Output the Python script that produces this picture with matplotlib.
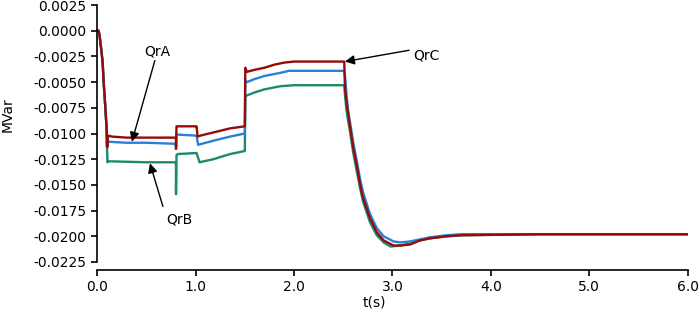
import matplotlib
matplotlib.use("Agg")
import matplotlib.pyplot as plt
from matplotlib.ticker import FormatStrFormatter, MultipleLocator

# QrC (red)
t_qrc = [0, 0.015, 0.025, 0.04, 0.055, 0.068, 0.082, 0.096, 0.100, 0.105, 0.11,
         0.15, 0.3, 0.5, 0.80, 0.801, 0.806, 1.0, 1.01, 1.02, 1.05, 1.18, 1.35,
         1.5, 1.505, 1.52, 1.6, 1.7, 1.8, 1.9, 2.0, 2.2, 2.4, 2.51, 2.517, 2.535,
         2.55, 2.57, 2.60, 2.64, 2.67, 2.70, 2.77, 2.84, 2.91, 3.01, 3.08, 3.18,
         3.28, 3.38, 3.55, 3.70, 4.5, 6.0]
v_qrc = [0, 0, -0.0005, -0.0017, -0.0030, -0.0053, -0.0073, -0.0095, -0.0113,
         -0.0113, -0.0102, -0.0103, -0.0104, -0.0104, -0.0104, -0.0115, -0.0093,
         -0.0093, -0.0093, -0.0103, -0.0102, -0.0099, -0.0095, -0.0093, -0.0036,
         -0.0040, -0.0038, -0.0036, -0.0033, -0.0031, -0.0030, -0.0030, -0.0030,
         -0.0030, -0.0055, -0.0071, -0.0081, -0.0094, -0.0113, -0.0133, -0.0149,
         -0.0162, -0.0182, -0.0196, -0.0204, -0.0209, -0.0209, -0.0208, -0.0204,
         -0.0202, -0.0200, -0.0199, -0.0198, -0.0198]

# QrA (blue)
t_qra = [0, 0.015, 0.025, 0.04, 0.055, 0.068, 0.082, 0.096, 0.100, 0.105, 0.11,
         0.3, 0.5, 0.80, 0.801, 0.806, 1.0, 1.01, 1.025, 1.18, 1.35, 1.5, 1.505,
         1.52, 1.6, 1.7, 1.86, 1.95, 2.2, 2.51, 2.52, 2.535, 2.55, 2.57, 2.60,
         2.64, 2.67, 2.70, 2.77, 2.84, 2.91, 3.01, 3.08, 3.18, 3.28, 3.38, 3.55,
         3.70, 4.5, 6.0]
v_qra = [0, 0, -0.0005, -0.0017, -0.0030, -0.0053, -0.0073, -0.0095, -0.0113,
         -0.0110, -0.0108, -0.0109, -0.0109, -0.0110, -0.0113, -0.0101, -0.0102,
         -0.0102, -0.0111, -0.0107, -0.0103, -0.0100, -0.0048, -0.0050, -0.0047,
         -0.0044, -0.0041, -0.0039, -0.0039, -0.0039, -0.0046, -0.0065, -0.0078,
         -0.0090, -0.0108, -0.0128, -0.0144, -0.0157, -0.0178, -0.0192, -0.0200,
         -0.0205, -0.0206, -0.0205, -0.0203, -0.0201, -0.0199, -0.0198, -0.0198,
         -0.0198]

# QrB (green)
t_qrb = [0, 0.015, 0.025, 0.04, 0.055, 0.068, 0.082, 0.096, 0.100, 0.105, 0.11,
         0.5, 0.80, 0.801, 0.806, 0.82, 1.0, 1.01, 1.04, 1.18, 1.35, 1.5, 1.505,
         1.52, 1.6, 1.7, 1.86, 2.0, 2.51, 2.515, 2.53, 2.55, 2.57, 2.60, 2.64,
         2.67, 2.70, 2.77, 2.84, 2.91, 2.98, 3.08, 3.18, 3.28, 3.38, 3.55, 3.70,
         4.5, 6.0]
v_qrb = [0, 0, -0.0005, -0.0017, -0.0030, -0.0053, -0.0073, -0.0095, -0.0113,
         -0.0128, -0.0127, -0.0128, -0.0128, -0.0159, -0.0121, -0.0120, -0.0119,
         -0.0119, -0.0128, -0.0125, -0.0120, -0.0117, -0.0063, -0.0063, -0.0060,
         -0.0057, -0.0054, -0.0053, -0.0053, -0.0060, -0.0075, -0.0088, -0.0099,
         -0.0118, -0.0138, -0.0153, -0.0166, -0.0186, -0.0199, -0.0206, -0.0210,
         -0.0209, -0.0207, -0.0204, -0.0202, -0.0200, -0.0199, -0.0198, -0.0198]

RED = "#960a0a"
BLUE = "#2a80d6"
GREEN = "#1d8a6c"

plt.rcParams["font.family"] = "DejaVu Sans"
plt.rcParams["axes.unicode_minus"] = False

fig = plt.figure(figsize=(6.99, 3.16), dpi=100)
ax = fig.add_axes([0.139, 0.171, 0.845, 0.813])

ax.plot(t_qrb, v_qrb, color=GREEN, lw=1.7)
ax.plot(t_qra, v_qra, color=BLUE, lw=1.7)
ax.plot(t_qrc, v_qrc, color=RED, lw=1.7)

ax.set_xlim(0, 6)
ax.set_ylim(-0.0225, 0.0025)
ax.xaxis.set_major_locator(MultipleLocator(1.0))
ax.yaxis.set_major_locator(MultipleLocator(0.0025))
ax.xaxis.set_major_formatter(FormatStrFormatter("%.1f"))
ax.yaxis.set_major_formatter(FormatStrFormatter("%.4f"))

for side in ("top", "right"):
    ax.spines[side].set_visible(False)
ax.spines["bottom"].set_position(("outward", 6))
for side in ("left", "bottom"):
    ax.spines[side].set_linewidth(1.2)

ax.tick_params(axis="both", labelsize=10, direction="out", width=1.2)
ax.tick_params(axis="y", length=4.5, pad=3)
ax.tick_params(axis="x", length=4, pad=3)

ax.set_ylabel("MVar", fontsize=10, labelpad=4)
ax.yaxis.set_label_coords(-0.14, 0.572)
ax.set_xlabel("t(s)", fontsize=10, labelpad=4)
ax.xaxis.set_label_coords(0.47, -0.13)

arrow = dict(arrowstyle="-|>", color="black", lw=1.0, mutation_scale=14,
             shrinkA=0, shrinkB=0)

ax.text(0.607, -0.0020, "QrA", ha="center", va="center", fontsize=10)
ax.annotate("", xy=(0.353, -0.0108), xytext=(0.586, -0.0029), arrowprops=arrow)

ax.text(0.84, -0.0184, "QrB", ha="center", va="center", fontsize=10)
ax.annotate("", xy=(0.536, -0.0129), xytext=(0.668, -0.0171), arrowprops=arrow)

ax.text(3.21, -0.0024, "QrC", ha="left", va="center", fontsize=10)
ax.annotate("", xy=(2.517, -0.0030), xytext=(3.168, -0.0019), arrowprops=arrow)

fig.savefig("out.png", dpi=100)
